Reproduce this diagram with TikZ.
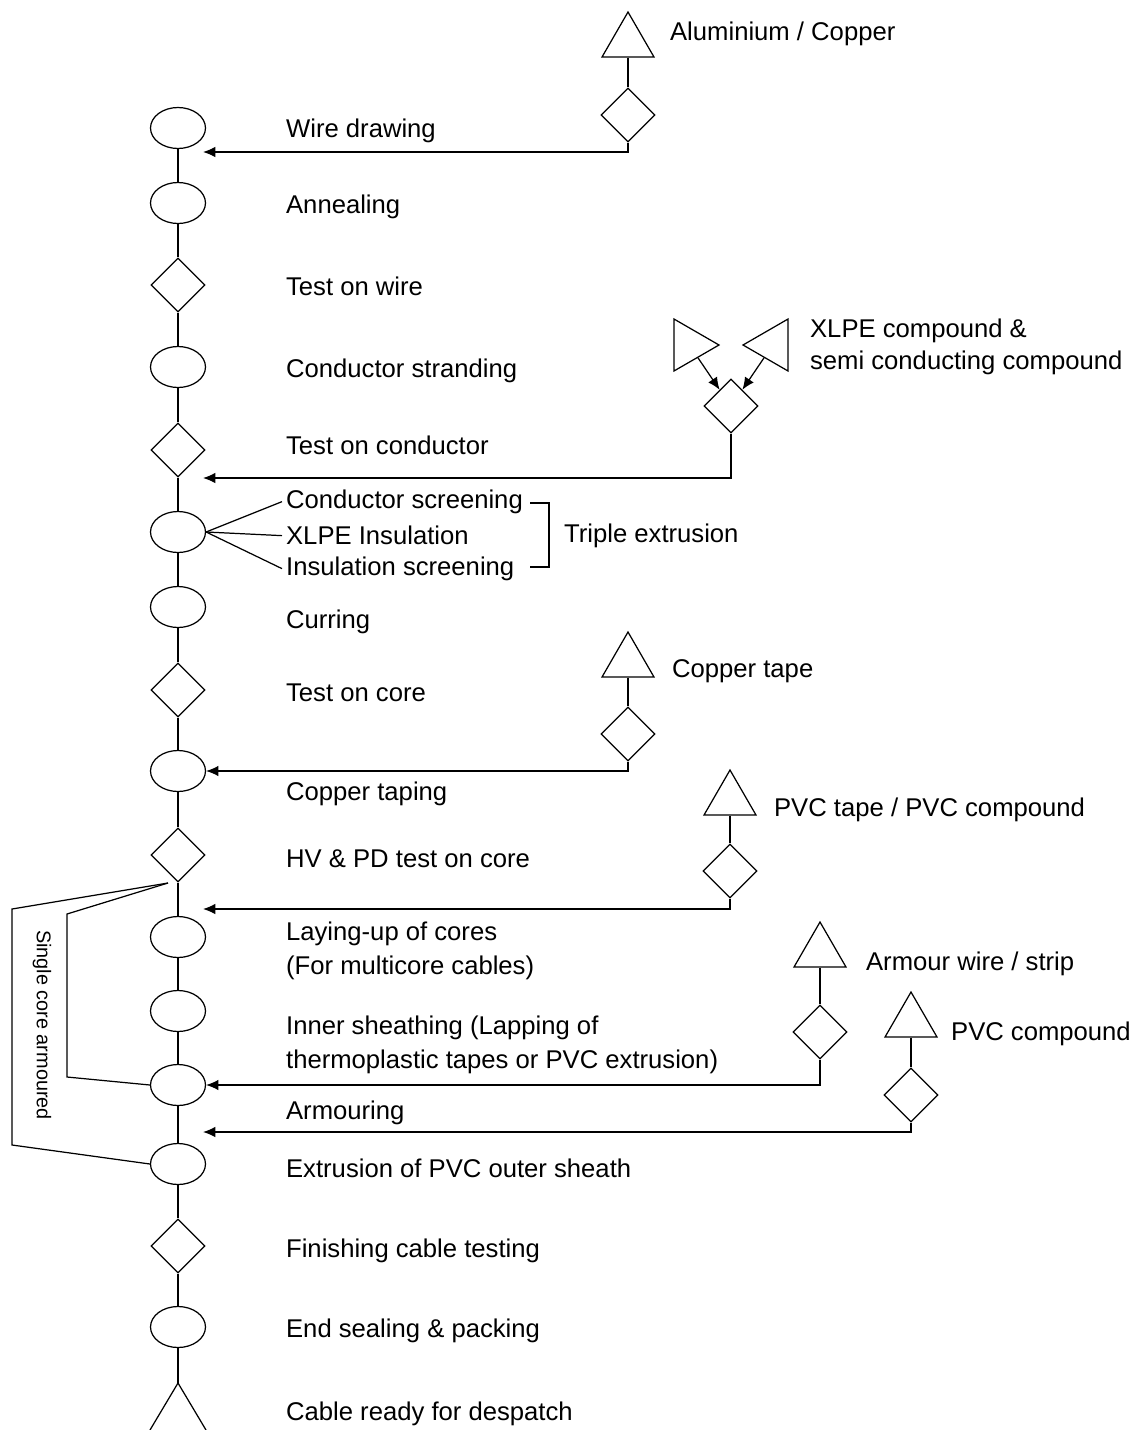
\documentclass[tikz,border=0pt]{standalone}
\usepackage{fontspec}
\setmainfont{Liberation Sans}
\usetikzlibrary{shapes.geometric}
\usetikzlibrary{arrows.meta}

\begin{document}
\begin{tikzpicture}[x=0.02cm, y=-0.02cm, line width=0.7pt,
  font=\fontsize{14.6}{18}\selectfont,
  op/.style={draw, ellipse, minimum width=1.1cm, minimum height=0.82cm, inner sep=0},
  chk/.style={draw, diamond, minimum width=1.08cm, minimum height=1.08cm, inner sep=0},
  supply/.style={draw, regular polygon, regular polygon sides=3, minimum size=1.2cm, inner sep=0},
  txt/.style={anchor=west, inner xsep=2pt, inner ysep=0pt, align=left, yshift=-1.5pt},
  feed/.style={-{Latex[length=7pt,width=6pt]}}]
\useasboundingbox (0,0) rectangle (1133,1430);

\node[op]  (wd)  at (178,128) {};
\node[op]  (an)  at (178,203) {};
\node[chk] (tw)  at (178,285) {};
\node[op]  (cst) at (178,367) {};
\node[chk] (tc)  at (178,450) {};
\node[op]  (te)  at (178,532) {};
\node[op]  (cu)  at (178,607) {};
\node[chk] (tco) at (178,690) {};
\node[op]  (ctp) at (178,771) {};
\node[chk] (hv)  at (178,855) {};
\node[op]  (lay) at (178,937) {};
\node[op]  (ins) at (178,1011) {};
\node[op]  (arm) at (178,1085) {};
\node[op]  (ext) at (178,1164) {};
\node[chk] (fin) at (178,1246) {};
\node[op]  (es)  at (178,1327) {};
\coordinate (endtop) at (178,1383);

\draw (wd) -- (an) -- (tw) -- (cst) -- (tc) -- (te) -- (cu) -- (tco) -- (ctp) -- (hv)
  -- (lay) -- (ins) -- (arm) -- (ext) -- (fin) -- (es) -- (endtop);
\draw (150,1430) -- (endtop) -- (206,1430);

\node[txt] (wdL)  at (282,128) {Wire drawing};
\node[txt] (anL)  at (282,204) {Annealing};
\node[txt] (twL)  at (282,284) {Test on wire};
\node[txt] (cstL) at (282,368) {Conductor stranding};
\node[txt] (tcL)  at (282,443) {Test on conductor};
\node[txt] (csL)  at (282,499) {Conductor screening};
\node[txt] (xiL)  at (282,533) {XLPE Insulation};
\node[txt] (isL)  at (282,566) {Insulation screening};
\node[txt] (triL) at (560,533) {Triple extrusion};
\node[txt] (cuL)  at (282,619) {Curring};
\node[txt] (tcoL) at (282,690) {Test on core};
\node[txt] (ctpL) at (282,791) {Copper taping};
\node[txt] (hvL)  at (282,856) {HV \& PD test on core};
\node[txt] (layL) at (282,948.5) {Laying-up of cores\\[1.5pt](For multicore cables)};
\node[txt] (insL) at (282,1042.5) {Inner sheathing (Lapping of\\[1.5pt]thermoplastic tapes or PVC extrusion)};
\node[txt] (armL) at (282,1110) {Armouring};
\node[txt] (extL) at (282,1166) {Extrusion of PVC outer sheath};
\node[txt] (finL) at (282,1248) {Finishing cable testing};
\node[txt] (esL)  at (282,1328) {End sealing \& packing};
\node[txt] (cabL) at (282,1411) {Cable ready for despatch};

\draw (te.east) -- (csL.west);
\draw (te.east) -- (xiL.west);
\draw (te.east) -- (isL.west);
\draw (530,503) -- (549,503) -- (549,567) -- (530,567);

\node[supply] (alT) at (628,42) {};
\node[chk] (alD) at (628,115) {};
\node[txt] (alL) at (666,31) {Aluminium / Copper};
\coordinate (wdIn) at (203,152);
\draw (alT) -- (alD);
\draw[feed] (alD.south) |- (wdIn);

\node[supply, shape border rotate=-90] (xl) at (689,345) {};
\node[supply, shape border rotate=90] (xr) at (773,345) {};
\node[chk] (xd) at (731,406) {};
\node[txt] (xpL) at (806,344) {XLPE compound \&\\semi conducting compound};
\coordinate (tcIn) at (203,478);
\draw[feed] (xl.-55) -- (xd.125);
\draw[feed] (xr.-125) -- (xd.55);
\draw[feed] (xd.south) |- (tcIn);

\node[supply] (ctT) at (628,662) {};
\node[chk] (ctD) at (628,734) {};
\node[txt] (ctL) at (668,669) {Copper tape};
\draw (ctT) -- (ctD);
\draw[feed] (ctD.south) |- (ctp.east);

\node[supply] (pvT) at (730,800) {};
\node[chk] (pvD) at (730,871) {};
\node[txt] (pvL) at (770,807) {PVC tape / PVC compound};
\coordinate (layIn) at (203,909);
\draw (pvT) -- (pvD);
\draw[feed] (pvD.south) |- (layIn);

\node[supply] (amT) at (820,952) {};
\node[chk] (amD) at (820,1032) {};
\node[txt] (amL) at (862,961) {Armour wire / strip};
\draw (amT) -- (amD);
\draw[feed] (amD.south) |- (arm.east);

\node[supply] (pcT) at (911,1022) {};
\node[chk] (pcD) at (911,1095) {};
\node[txt] (pcL) at (947,1031) {PVC compound};
\coordinate (extIn) at (203,1132);
\draw (pcT) -- (pcD);
\draw[feed] (pcD.south) |- (extIn);

\coordinate (scA) at (168,883);
\draw (scA) -- (12,909) -- (12,1145) -- (ext.west);
\draw (scA) -- (67,914) -- (67,1077) -- (arm.west);
\node[rotate=-90, font=\fontsize{11.3}{13}\selectfont] (scL) at (42,1025) {Single core armoured};
\end{tikzpicture}
\end{document}
